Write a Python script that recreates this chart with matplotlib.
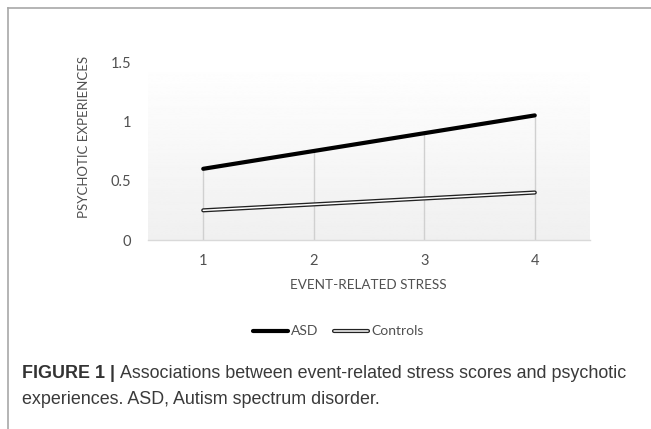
import numpy as np
import matplotlib
matplotlib.use("Agg")
import matplotlib.pyplot as plt
from matplotlib.lines import Line2D

categories = ["1", "2", "3", "4"]
asd = [0.60, 0.75, 0.90, 1.05]
controls = [0.25, 0.30, 0.35, 0.40]
yticks = [0, 0.5, 1, 1.5]
ytick_labels = ["0", "0.5", "1", "1.5"]

W, H = 651, 429
fig = plt.figure(figsize=(W/100, H/100), dpi=100)
fig.patch.set_facecolor("white")

chart_font = ["Lato", "DejaVu Sans"]
cap_font = ["Liberation Sans", "DejaVu Sans"]
tc = "#505050"

# border lines
fig.add_artist(Line2D([8/W, 1], [1-8/H, 1-8/H], color="#a8a8a8", lw=1.2))
fig.add_artist(Line2D([8/W, 8/W], [0, 1-8/H], color="#a8a8a8", lw=1.2))

ax = fig.add_axes([148/W, 1-240/H, 442/W, 178/H])
x = np.arange(1, len(categories)+1)
ax.set_xlim(0.5, len(categories)+0.5)
ax.set_ylim(0, 1.5)

# gradient background
grad = np.linspace(1.0, 0.94, 256).reshape(-1, 1)
ax.imshow(grad, extent=[0.5, len(categories)+0.5, 0, 1.5], aspect="auto",
          cmap="gray", vmin=0, vmax=1, origin="upper", zorder=0)

# drop lines
tops = np.maximum(asd, controls)
ax.vlines(x, 0, tops, colors="#d0d0d0", lw=1.0, zorder=1)

ax.plot(x, asd, color="black", lw=3.0, solid_capstyle="round", zorder=3)
ax.plot(x, controls, color="#222222", lw=3.0, solid_capstyle="round", zorder=3)
ax.plot(x, controls, color="white", lw=1.1, solid_capstyle="round", zorder=4)

for s in ["top", "right", "left"]:
    ax.spines[s].set_visible(False)
ax.spines["bottom"].set_color("#d9d9d9")
ax.spines["bottom"].set_linewidth(1.0)
ax.tick_params(length=0, colors=tc, labelsize=10.5, pad=10)
ax.set_xticks(x)
ax.set_xticklabels(categories, family=chart_font)
ax.set_yticks(yticks)
ax.set_yticklabels(ytick_labels, family=chart_font)
ax.tick_params(axis="y", pad=12)

fig.text(368/W, 1-285/H, "EVENT-RELATED STRESS", ha="center", va="center",
         fontsize=9.7, color=tc, family=chart_font)
fig.text(84/W, 1-137/H, "PSYCHOTIC EXPERIENCES", ha="center", va="center",
         rotation=90, fontsize=9.5, color=tc, family=chart_font)

# legend
ly = 1-331/H
fig.add_artist(Line2D([253/W, 288/W], [ly, ly], color="black", lw=3.0, solid_capstyle="round"))
fig.text(291/W, ly, "ASD", ha="left", va="center", fontsize=10, color=tc, family=chart_font)
fig.add_artist(Line2D([334/W, 368/W], [ly, ly], color="#222222", lw=3.0, solid_capstyle="round"))
fig.add_artist(Line2D([334/W, 368/W], [ly, ly], color="white", lw=1.1, solid_capstyle="round"))
fig.text(371/W, ly, "Controls", ha="left", va="center", fontsize=10, color=tc, family=chart_font)

# caption
cs = 12.9
t1 = fig.text(22/W, 1-374/H, "FIGURE 1 |", ha="left", va="center", fontsize=cs,
              fontweight="bold", color="#333333", family=cap_font)
fig.canvas.draw()
bb = t1.get_window_extent()
fig.text((bb.x1 + 5)/W, 1-374/H, "Associations between event-related stress scores and psychotic",
         ha="left", va="center", fontsize=cs, color="#3a3a3a", family=cap_font)
fig.text(22/W, 1-400/H, "experiences. ASD, Autism spectrum disorder.", ha="left", va="center",
         fontsize=cs, color="#3a3a3a", family=cap_font)

fig.savefig("out.png", dpi=100)
